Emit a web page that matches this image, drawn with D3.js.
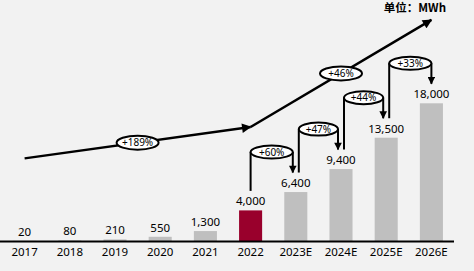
<!DOCTYPE html>
<html>
<head>
<meta charset="utf-8">
<script src="https://cdn.jsdelivr.net/npm/d3@7"></script>
<style>
  body { margin: 0; background: #f2f2f2; }
  svg { display: block; }
  text { font-family: "Noto Sans", "Noto Sans CJK SC", sans-serif; fill: #000; }
</style>
</head>
<body>
<svg width="474" height="271"></svg>
<script>
// categories and values (MWh)
const years = ["2017", "2018", "2019", "2020", "2021", "2022", "2023E", "2024E", "2025E", "2026E"]
const values = [20, 80, 210, 550, 1300, 4000, 6400, 9400, 13500, 18000]
const valueLabels = ["20", "80", "210", "550", "1,300", "4,000", "6,400", "9,400", "13,500", "18,000"]
const highlightYear = "2022"

// year-on-year growth from 2022 onwards
const yoyFrom = ["2022", "2023E", "2024E", "2025E"]
const yoyTo = ["2023E", "2024E", "2025E", "2026E"]
const yoyLabels = ["+60%", "+47%", "+44%", "+33%"]

// overall trend arrows (CAGR), anchor points in value units
const trendYears = ["2017", "2022", "2026E"]
const trendLevels = [10800, 14900, 28900]
const trendLabels = ["+189%", "+46%"]

const unitText = "单位：MWh"

const svg = d3.select("svg")

var x = d3.scaleBand()
    .domain(years)
    .range([2, 454])
    .paddingInner(0.49)
    .paddingOuter(0.245)
var y = d3.scaleLinear()
    .domain([0, 31500])
    .range([241, 0])

const cx = d => x(d) + x.bandwidth() / 2

svg.append("defs").append("marker")
    .attr("id", "arr")
    .attr("viewBox", "0 0 10 10")
    .attr("refX", 9).attr("refY", 5)
    .attr("markerWidth", 4.4).attr("markerHeight", 3.8)
    .attr("markerUnits", "strokeWidth")
    .attr("orient", "auto")
    .append("path")
    .attr("d", "M0,0 L10,5 L0,10 z")
    .attr("fill", "#000")

// bars
svg.append("g")
    .selectAll("rect")
    .data(years)
    .enter()
    .append("rect")
    .attr("x", d => x(d))
    .attr("width", x.bandwidth())
    .attr("y", (d, i) => y(values[i]))
    .attr("height", (d, i) => y(0) - y(values[i]))
    .attr("fill", d => d == highlightYear ? "#99002c" : "#bfbfbf")

// value labels
svg.append("g")
    .selectAll("text")
    .data(years)
    .enter()
    .append("text")
    .attr("x", d => cx(d))
    .attr("y", (d, i) => y(values[i]) - 5)
    .attr("text-anchor", "middle")
    .style("font-size", "11.5px")
    .text((d, i) => valueLabels[i])

// x axis
var xAxis = svg.append("g")
    .attr("transform", "translate(0," + y(0) + ")")
    .call(d3.axisBottom(x).tickSize(0).tickPadding(7))
xAxis.select(".domain")
    .attr("d", "M0,0.5H454")
    .attr("stroke", "#000")
    .attr("stroke-width", 2)
xAxis.selectAll("text")
    .style("font-size", "11.5px")
    .style("font-family", "Noto Sans")
    .attr("fill", "#000")

// unit label
svg.append("text")
    .attr("x", 446)
    .attr("y", 12)
    .attr("text-anchor", "end")
    .style("font-family", "'Noto Sans CJK SC'")
    .style("font-weight", "bold")
    .style("font-size", "11.5px")
    .text(unitText)

// trend arrows
const trend = svg.append("g")
for (let i = 0; i < trendYears.length - 1; i++) {
    let x1 = cx(trendYears[i]), y1 = y(trendLevels[i])
    let x2 = cx(trendYears[i + 1]), y2 = y(trendLevels[i + 1])
    trend.append("line")
        .attr("x1", x1).attr("y1", y1)
        .attr("x2", x2).attr("y2", y2)
        .attr("stroke", "#000")
        .attr("stroke-width", 2.5)
        .attr("marker-end", "url(#arr)")
    let mx = (x1 + x2) / 2, my = (y1 + y2) / 2
    trend.append("ellipse")
        .attr("cx", mx).attr("cy", my)
        .attr("rx", 21).attr("ry", 7)
        .attr("fill", "#fff")
        .attr("stroke", "#000")
        .attr("stroke-width", 2)
    trend.append("text")
        .attr("x", mx).attr("y", my + 3.5)
        .attr("text-anchor", "middle")
        .style("font-size", "10px")
        .text(trendLabels[i])
}

// yoy connectors
const yoy = svg.append("g")
yoyFrom.forEach((f, i) => {
    let t = yoyTo[i]
    let fTop = y(values[years.indexOf(f)])
    let tTop = y(values[years.indexOf(t)])
    let lx = cx(f) + (i == 0 ? 0 : 3)
    let rx = cx(t) - (i == yoyFrom.length - 1 ? 0 : 3)
    let ey = tTop - 40
    yoy.append("line")
        .attr("x1", lx).attr("y1", fTop - 19.5)
        .attr("x2", lx).attr("y2", ey)
        .attr("stroke", "#000").attr("stroke-width", 2)
    yoy.append("line")
        .attr("x1", rx).attr("y1", ey)
        .attr("x2", rx).attr("y2", tTop - 19.5)
        .attr("stroke", "#000").attr("stroke-width", 2)
        .attr("marker-end", "url(#arr)")
    yoy.append("ellipse")
        .attr("cx", (lx + rx) / 2).attr("cy", ey)
        .attr("rx", (rx - lx) / 2).attr("ry", 6.5)
        .attr("fill", "#fff")
        .attr("stroke", "#000")
        .attr("stroke-width", 2)
    yoy.append("text")
        .attr("x", (lx + rx) / 2).attr("y", ey + 3.5)
        .attr("text-anchor", "middle")
        .style("font-size", "10px")
        .text(yoyLabels[i])
})
</script>
</body>
</html>
